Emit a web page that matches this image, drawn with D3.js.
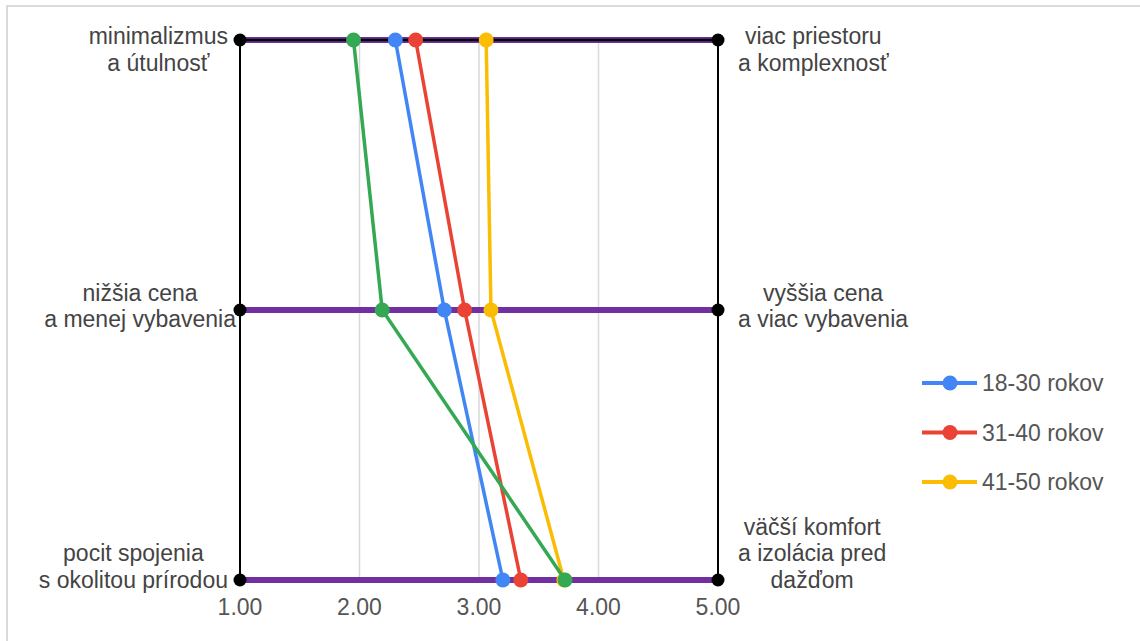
<!DOCTYPE html>
<html>
<head>
<meta charset="utf-8">
<script src="https://cdn.jsdelivr.net/npm/d3@7"></script>
<style>
  body { margin: 0; background: #fff; }
  text { font-family: "Liberation Sans", Arial, sans-serif; }
</style>
</head>
<body>
<script>
    //Data
        const rows = ["r1", "r2", "r3"];
        const leftLabels = [
            ["minimalizmus", "a útulnosť"],
            ["nižšia cena", "a menej vybavenia"],
            ["pocit spojenia", "s okolitou prírodou"]
        ];
        const rightLabels = [
            ["viac priestoru", "a komplexnosť"],
            ["vyššia cena", "a viac vybavenia"],
            ["väčší komfort", "a izolácia pred", "dažďom"]
        ];
        const xTicks = [1, 2, 3, 4, 5];
        const seriesNames = ["18-30 rokov", "31-40 rokov", "41-50 rokov", "nad 50 rokov"];
        const seriesColors = ["#4285F4", "#EA4335", "#FBBC04", "#34A853"];
        const values1830 = [2.30, 2.71, 3.20];
        const values3140 = [2.47, 2.88, 3.35];
        const values4150 = [3.06, 3.10, 3.71];
        const values50 = [1.95, 2.19, 3.72];
        const legendCount = 3; // the last series is not in the legend

        const series = [values1830, values3140, values4150, values50].map((v, i) => ({
            name: seriesNames[i],
            color: seriesColors[i],
            points: v.map((x, j) => ({ x: x, row: rows[j] }))
        }));

    //Consts
        const width = 1140;
        const height = 641;
        const fontSize = 23;
        const lineH = 26.5;
        const leftEdge = [228, 236, 228]; // right edge of each left label block

    //SVG
        const svg = d3.select("body")
                    .append("svg")
                    .attr("width", width)
                    .attr("height", height);

        // chart border (only top/left visible)
        svg.append("rect")
            .attr("x", 7).attr("y", 6)
            .attr("width", 1200).attr("height", 700)
            .attr("fill", "none")
            .attr("stroke", "#dadada")
            .attr("stroke-width", 2);

    //Scales
        const xScale = d3.scaleLinear()
                        .domain([1, 5])
                        .range([240, 718]);

        const yScale = d3.scalePoint()
                        .domain(rows)
                        .range([40, 580]);

    //Gridlines
        svg.append("g")
            .selectAll("line")
            .data(xTicks.slice(1, -1))
            .enter()
            .append("line")
            .attr("x1", d => xScale(d)).attr("x2", d => xScale(d))
            .attr("y1", yScale(rows[0])).attr("y2", yScale(rows[rows.length - 1]))
            .attr("stroke", "#d9d9d9")
            .attr("stroke-width", 1.5);

    //Frame
        svg.append("rect")
            .attr("x", xScale(1)).attr("y", yScale(rows[0]))
            .attr("width", xScale(5) - xScale(1))
            .attr("height", yScale(rows[rows.length - 1]) - yScale(rows[0]))
            .attr("fill", "none")
            .attr("stroke", "#000")
            .attr("stroke-width", 2);

    //Purple row lines
        svg.append("g")
            .selectAll("line")
            .data(rows)
            .enter()
            .append("line")
            .attr("x1", xScale(1)).attr("x2", xScale(5))
            .attr("y1", d => yScale(d)).attr("y2", d => yScale(d))
            .attr("stroke", "#7030A0")
            .attr("stroke-width", 6);

        // black line on top row
        svg.append("line")
            .attr("x1", xScale(1)).attr("x2", xScale(5))
            .attr("y1", yScale(rows[0])).attr("y2", yScale(rows[0]))
            .attr("stroke", "#000")
            .attr("stroke-width", 2.5);

    //Black end dots
        const ends = [];
        rows.forEach(r => { ends.push({ x: 1, row: r }); ends.push({ x: 5, row: r }); });
        svg.append("g")
            .selectAll("circle")
            .data(ends)
            .enter()
            .append("circle")
            .attr("cx", d => xScale(d.x))
            .attr("cy", d => yScale(d.row))
            .attr("r", 6.5)
            .attr("fill", "#000");

    //Series
        const line = d3.line()
                    .x(d => xScale(d.x))
                    .y(d => yScale(d.row));

        series.forEach(s => {
            const g = svg.append("g");
            g.append("path")
                .datum(s.points)
                .attr("d", line)
                .attr("fill", "none")
                .attr("stroke", s.color)
                .attr("stroke-width", 3.5);
            g.selectAll("circle")
                .data(s.points)
                .enter()
                .append("circle")
                .attr("cx", d => xScale(d.x))
                .attr("cy", d => yScale(d.row))
                .attr("r", 7.5)
                .attr("fill", s.color);
        });

    //Row labels - centered lines, block clamped inside chart
        function blockTop(row, n) {
            const c = yScale(row) - 4;
            let top = c - n * lineH / 2;
            top = Math.max(top, 23);
            top = Math.min(top, 593 - n * lineH);
            return top;
        }

        function drawLabel(lines, row, side, edge) {
            const g = svg.append("g");
            const top = blockTop(row, lines.length);
            const t = g.selectAll("text")
                .data(lines)
                .enter()
                .append("text")
                .attr("y", (d, i) => top + i * lineH + lineH / 2 + 8)
                .attr("text-anchor", "middle")
                .attr("font-size", fontSize)
                .attr("fill", "#444")
                .text(d => d);
            let maxW = 0;
            t.each(function() { maxW = Math.max(maxW, this.getComputedTextLength()); });
            const cx = side === "left" ? edge - maxW / 2 : edge + maxW / 2;
            t.attr("x", cx);
        }

        rows.forEach((r, i) => {
            drawLabel(leftLabels[i], r, "left", leftEdge[i]);
            drawLabel(rightLabels[i], r, "right", 738);
        });

    //X axis labels
        svg.append("g")
            .selectAll("text")
            .data(xTicks)
            .enter()
            .append("text")
            .attr("x", d => xScale(d))
            .attr("y", 615)
            .attr("text-anchor", "middle")
            .attr("font-size", fontSize)
            .attr("fill", "#555")
            .text(d => d3.format(".2f")(d));

    //Legend
        const legend = svg.append("g")
                    .selectAll("g")
                    .data(series.slice(0, legendCount))
                    .enter()
                    .append("g")
                    .attr("transform", (d, i) => "translate(0," + (383 + i * 49.5) + ")");

        legend.append("line")
            .attr("x1", 922).attr("x2", 977)
            .attr("stroke", d => d.color)
            .attr("stroke-width", 4);

        legend.append("circle")
            .attr("cx", 950)
            .attr("r", 7.5)
            .attr("fill", d => d.color);

        legend.append("text")
            .attr("x", 982)
            .attr("y", 8)
            .attr("font-size", fontSize)
            .attr("fill", "#555")
            .text(d => d.name);
</script>
</body>
</html>
